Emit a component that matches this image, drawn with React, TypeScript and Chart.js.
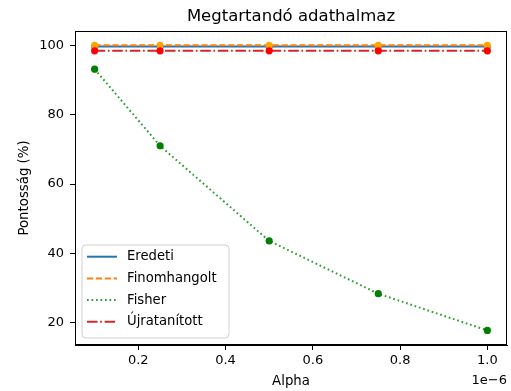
import React, { useEffect, useRef } from "react";
import { Chart, registerables } from "chart.js";

Chart.register(...registerables);

const alphas = [1e-7, 2.5e-7, 5e-7, 7.5e-7, 1e-6];
const eredeti = [99.6, 99.6, 99.6, 99.6, 99.6];
const finomhangolt = [100.0, 100.0, 100.0, 100.0, 100.0];
const fisher = [93.1, 71.0, 43.6, 28.4, 17.8];
const ujratanitott = [98.4, 98.4, 98.4, 98.4, 98.4];
const xTicks = [2e-7, 4e-7, 6e-7, 8e-7, 1e-6];
const yTicks = [20, 40, 60, 80, 100];
const seriesNames = ["Eredeti", "Finomhangolt", "Fisher", "Újratanított"];

const FONT = "DejaVu Sans";

export default function App() {
  const ref = useRef<HTMLCanvasElement | null>(null);

  useEffect(() => {
    const canvas = ref.current;
    if (!canvas) return;
    const lineColors = ["#1f77b4", "#ff7f0e", "#2ca02c", "#d62728"];
    const markerColors = ["royalblue", "orange", "green", "red"];
    const dashes: number[][] = [[], [6.2, 2.7], [1.7, 2.8], [10.5, 2.7, 1.7, 2.7]];
    const series = [eredeti, finomhangolt, fisher, ujratanitott];

    const decor = {
      id: "decor",
      afterDraw(chart: any) {
        const { ctx, chartArea } = chart;
        const { left, right, top, bottom } = chartArea;
        ctx.save();
        // frame
        ctx.strokeStyle = "#000";
        ctx.lineWidth = 1;
        ctx.strokeRect(left + 0.5, top + 0.5, right - left - 1, bottom - top - 1);
        // title
        ctx.fillStyle = "#000";
        ctx.font = `16.5px "${FONT}"`;
        ctx.textAlign = "center";
        ctx.textBaseline = "middle";
        ctx.fillText("Megtartandó adathalmaz", (left + right) / 2, 17);
        // offset text
        ctx.font = `13px "${FONT}"`;
        ctx.textAlign = "right";
        ctx.fillText("1e\u22126", right, 381);
        // legend
        const bx = 82, by = 245, bw = 147, bh = 93, r = 4;
        ctx.beginPath();
        ctx.moveTo(bx + r, by);
        ctx.lineTo(bx + bw - r, by);
        ctx.quadraticCurveTo(bx + bw, by, bx + bw, by + r);
        ctx.lineTo(bx + bw, by + bh - r);
        ctx.quadraticCurveTo(bx + bw, by + bh, bx + bw - r, by + bh);
        ctx.lineTo(bx + r, by + bh);
        ctx.quadraticCurveTo(bx, by + bh, bx, by + bh - r);
        ctx.lineTo(bx, by + r);
        ctx.quadraticCurveTo(bx, by, bx + r, by);
        ctx.closePath();
        ctx.fillStyle = "rgba(255,255,255,0.8)";
        ctx.fill();
        ctx.strokeStyle = "#d0d0d0";
        ctx.lineWidth = 1;
        ctx.stroke();
        ctx.font = `13.2px "${FONT}"`;
        ctx.textAlign = "left";
        ctx.textBaseline = "middle";
        seriesNames.forEach((name, i) => {
          const y = 256.7 + i * 21.7;
          ctx.beginPath();
          ctx.setLineDash(dashes[i]);
          ctx.strokeStyle = lineColors[i];
          ctx.lineWidth = 2;
          ctx.moveTo(87, y);
          ctx.lineTo(117, y);
          ctx.stroke();
          ctx.setLineDash([]);
          ctx.fillStyle = "#000";
          ctx.fillText(name, 127, y);
        });
        ctx.restore();
      },
    };

    const chart = new Chart(canvas, {
      type: "line",
      data: {
        datasets: series.map((vals, i) => ({
          label: seriesNames[i],
          data: vals.map((v, j) => ({ x: alphas[j], y: v })),
          borderColor: lineColors[i],
          backgroundColor: markerColors[i],
          pointBackgroundColor: markerColors[i],
          pointBorderColor: markerColors[i],
          pointRadius: 3.6,
          pointBorderWidth: 0,
          borderWidth: 2,
          borderDash: dashes[i],
          tension: 0,
          fill: false,
          order: 3 - i,
        })),
      },
      plugins: [decor],
      options: {
        animation: false,
        responsive: false,
        devicePixelRatio: 1,
        layout: { padding: { left: 0, right: 3, top: 31, bottom: 0 } },
        plugins: {
          legend: { display: false },
          title: { display: false },
          tooltip: { enabled: false },
        },
        scales: {
          x: {
            type: "linear",
            min: 5.5e-8,
            max: 1.045e-6,
            afterFit: (s: any) => {
              s.height = 46;
            },
            afterBuildTicks: (s: any) => {
              s.ticks = xTicks.map((v) => ({ value: v }));
            },
            grid: {
              drawOnChartArea: false,
              drawTicks: true,
              tickLength: 5,
              tickColor: "#000",
            },
            border: { display: true, color: "#000", width: 1 },
            ticks: {
              color: "#000",
              font: { family: FONT, size: 13 },
              padding: 3,
              maxRotation: 0,
              autoSkip: false,
              callback: (v: any) => (Number(v) * 1e6).toFixed(1),
            },
            title: {
              display: true,
              text: "Alpha",
              color: "#000",
              font: { family: FONT, size: 13.3 },
              padding: { top: 0, bottom: 1.5 },
            },
          },
          y: {
            type: "linear",
            min: 13.6,
            max: 104.1,
            afterFit: (s: any) => {
              s.width = 75;
            },
            afterBuildTicks: (s: any) => {
              s.ticks = yTicks.map((v) => ({ value: v }));
            },
            grid: {
              drawOnChartArea: false,
              drawTicks: true,
              tickLength: 5,
              tickColor: "#000",
            },
            border: { display: true, color: "#000", width: 1 },
            ticks: {
              color: "#000",
              font: { family: FONT, size: 13 },
              padding: 6,
              autoSkip: false,
              callback: (v: any) => String(v),
            },
            title: {
              display: true,
              text: "Pontosság (%)",
              color: "#000",
              font: { family: FONT, size: 13.3 },
              padding: { top: 17, bottom: 0 },
            },
          },
        },
      },
    } as any);
    return () => chart.destroy();
  }, []);

  return (
    <div style={{ position: "absolute", left: 0, top: 0, width: 511, height: 391 }}>
      <canvas ref={ref} width={511} height={391} style={{ display: "block" }} />
    </div>
  );
}
